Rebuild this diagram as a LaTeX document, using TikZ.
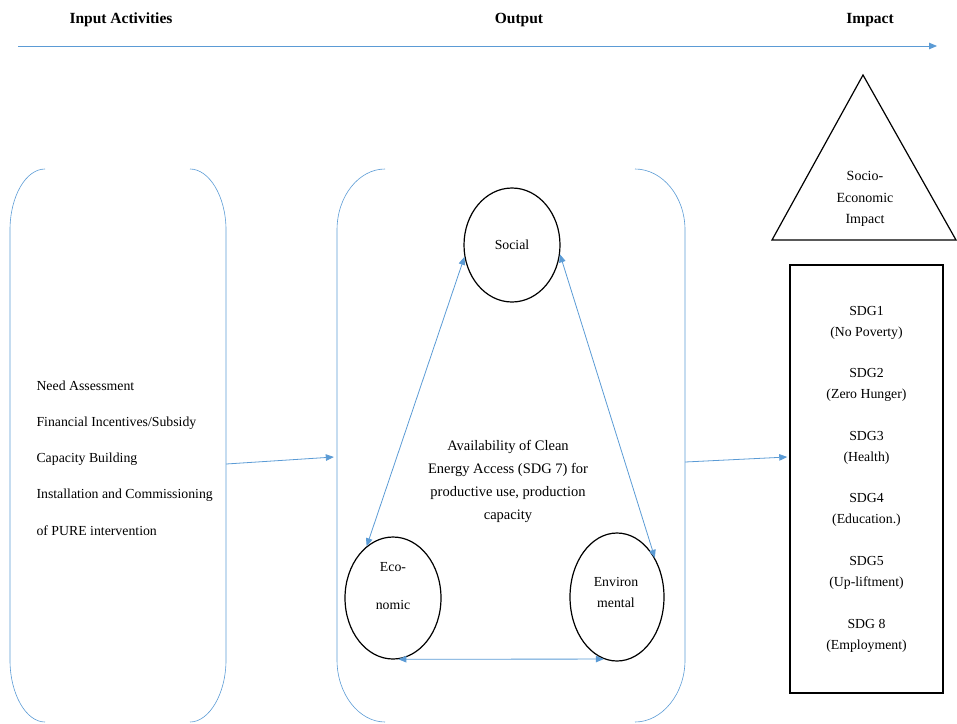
\documentclass[tikz,border=0pt]{standalone}
\usepackage{fontspec}
\setmainfont{Liberation Serif}
\usepackage{tikz}
\usetikzlibrary{shapes.geometric,arrows.meta}
\definecolor{lineblue}{RGB}{91,155,213}
\tikzset{
  flow/.style={draw=lineblue, line width=0.8pt, -{Triangle[length=8pt,width=6.5pt]}},
  twoway/.style={draw=lineblue, line width=0.8pt,
    {Triangle[length=8pt,width=6.5pt]}-{Triangle[length=8pt,width=6.5pt]}},
  bracket/.style={draw=lineblue, line width=0.6pt},
  pillar/.style={ellipse, draw, line width=1.2pt, inner sep=0pt},
  heading/.style={font=\fontsize{15.5}{18}\selectfont\bfseries},
  body/.style={font=\fontsize{13.8}{21}\selectfont, align=center},
}

\begin{document}
\begin{tikzpicture}[x=1pt,y=-1pt]
    \useasboundingbox (0,0) rectangle (957,723);

    \node[heading](H1) at (121, 20) {Input Activities};
    \node[heading](H2) at (519, 20) {Output};
    \node[heading](H3) at (870, 20) {Impact};
    \coordinate(L0) at ( 18, 46);
    \coordinate(L1) at (937, 46);

    \node[minimum width=216, minimum height=554](input)  at (118, 446) {};
    \node[minimum width=348, minimum height=554](output) at (511, 446) {};

    \draw[bracket] (45,169) .. controls (26,169) and (10,196) .. (10,230) -- (10,660)
                   .. controls (10,694) and (26,722) .. (45,722);
    \draw[bracket] (190,169) .. controls (209,169) and (226,196) .. (226,230) -- (226,660)
                   .. controls (226,694) and (209,722) .. (190,722);
    \draw[bracket] (385,169) .. controls (359,169) and (337,196) .. (337,230) -- (337,660)
                   .. controls (337,694) and (359,722) .. (385,722);
    \draw[bracket] (635,169) .. controls (662,169) and (685,196) .. (685,230) -- (685,660)
                   .. controls (685,694) and (662,722) .. (635,722);

    \node[body, align=left, anchor=west, font=\fontsize{13.8}{36.25}\selectfont](acts) at (33, 458)
      {Need Assessment\\Financial Incentives/Subsidy\\Capacity Building\\
       Installation and Commissioning\\of PURE intervention};
    \node[body, font=\fontsize{14.5}{23}\selectfont](access) at (508, 481)
      {Availability of Clean\\Energy Access (SDG 7) for\\productive use, production\\capacity};

    \node[pillar, body, minimum width=96, minimum height=114](social) at (512, 245) {Social};
    \node[pillar, minimum width=96, minimum height=122](econ) at (393, 598) {};
    \node[pillar, minimum width=94, minimum height=128](env)  at (617, 597) {};
    \node[body, font=\fontsize{13.8}{38}\selectfont](econtext) at (393, 586) {Eco-\\nomic};
    \node[body](envtext) at (616, 592) {Environ\\mental};

    \node[body, font=\fontsize{14}{21.5}\selectfont](socio) at (865, 199) {Socio-\\Economic\\Impact};
    \draw[line width=1.2pt] (863,75) -- (956,240) -- (772,240) -- cycle;

    \node[draw, line width=1.5pt, minimum width=153, minimum height=428, body](sdg) at (866.5, 479)
      {SDG1\\(No Poverty)\\[20.6pt]SDG2\\(Zero Hunger)\\[20.6pt]SDG3\\(Health)\\[20.6pt]
       SDG4\\(Education.)\\[20.6pt]SDG5\\(Up-liftment)\\[20.6pt]SDG 8\\(Employment)};

    \draw[flow] (L0) -- (L1);
    \draw[flow] ([yshift=-18pt]input.east) -- ([xshift=-3pt,yshift=-11pt]output.west);
    \draw[flow] ([yshift=-16pt]output.east) -- ([xshift=-2pt,yshift=22pt]sdg.west);
    \draw[twoway] (social.194) -- (econ.117);
    \draw[twoway] (social.349) -- (env.46);
    \draw[twoway] (econ.275) -- (env.258);
\end{tikzpicture}
\end{document}
